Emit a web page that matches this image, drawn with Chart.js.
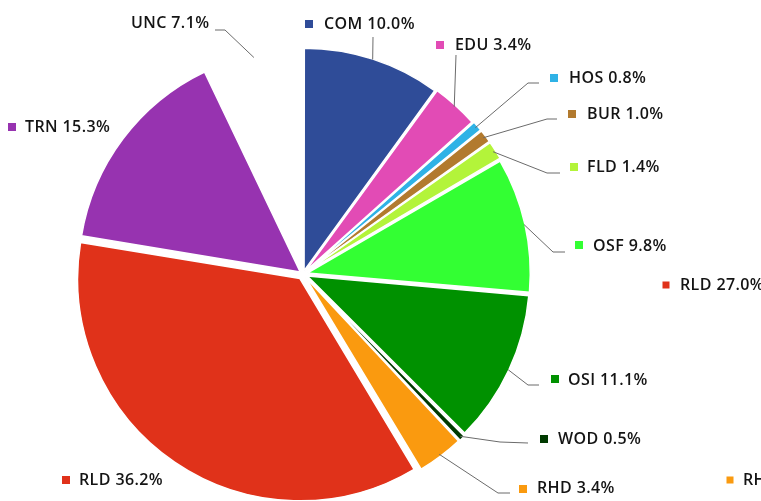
<!DOCTYPE html>
<html>
<head>
<meta charset="utf-8">
<script src="https://cdn.jsdelivr.net/npm/chart.js@4"></script>
<style>
  html, body { margin: 0; padding: 0; background: #fff; overflow: hidden; }
  #wrap { position: relative; width: 761px; height: 501px; }
</style>
</head>
<body>
<div id="wrap"><canvas id="c" width="761" height="501"></canvas></div>
<script>
// ---- data ----
const categories = ['COM', 'EDU', 'HOS', 'BUR', 'FLD', 'OSF', 'OSI', 'WOD', 'RHD', 'RLD', 'TRN', 'UNC'];
const shares = [10.0, 3.4, 0.8, 1.0, 1.4, 9.8, 11.1, 0.5, 3.4, 36.2, 15.3, 7.1];
// labels of the neighbouring (cropped) chart
const sideCategories = ['RLD', 'RHD'];
const sideShares = [27.0, 3.4];

// ---- styles ----
const colors = ['#2F4C98', '#E24BB5', '#2FB2E6', '#B27A2E', '#B3F43A', '#33FF33',
                '#009100', '#003A00', '#FA9A0F', '#E0321A', '#9733B0', '#FFFFFF'];
const sideColors = ['#E0321A', '#FA9A0F'];
const explode = [14, 14, 16, 16, 16, 18, 18, 16, 16, 22, 14, 0];

// label layout: square centre, text start/centre, leader elbow & end (null = no leader)
const labelLayout = [
  { sq: [309, 24], tx: 324, ty: 24, elbow: [373, 37], end: [373, 37] },
  { sq: [440, 45], tx: 455, ty: 45, elbow: [456, 55], end: [456, 55] },
  { sq: [554, 78], tx: 569, ty: 78, elbow: [528, 83], end: [539, 83] },
  { sq: [572, 114], tx: 587, ty: 114, elbow: [547, 119], end: [557, 119] },
  { sq: [574, 167], tx: 587, ty: 167, elbow: [547, 173], end: [560, 173] },
  { sq: [579, 245], tx: 593, ty: 246, elbow: [553, 252], end: [565, 252] },
  { sq: [555, 379], tx: 568, ty: 380, elbow: [528, 385], end: [539, 385] },
  { sq: [544, 439], tx: 558, ty: 439, elbow: [500, 442], end: [528, 443] },
  { sq: [523, 489], tx: 537, ty: 488, elbow: [498, 493], end: [510, 493] },
  { sq: [66, 480], tx: 79, ty: 480, elbow: null, end: null },
  { sq: [12, 127], tx: 25, ty: 127, elbow: null, end: null },
  { sq: [118, 23], tx: 131, ty: 23, elbow: [225, 30], end: [215, 30] }
];
const sideLayout = [
  { sq: [666, 285], tx: 680, ty: 285 },
  { sq: [730, 480], tx: 743, ty: 480 }
];
const FONT = '600 16px "Open Sans"';

const labelPlugin = {
  id: 'outLabels',
  afterDatasetsDraw(chart) {
    const ctx = chart.ctx;
    const meta = chart.getDatasetMeta(0);
    ctx.save();
    ctx.font = FONT;
    if ('letterSpacing' in ctx) ctx.letterSpacing = '0.4px';
    ctx.textBaseline = 'middle';
    ctx.textAlign = 'left';
    meta.data.forEach((arc, i) => {
      const p = arc.getProps(['x', 'y', 'startAngle', 'endAngle', 'outerRadius']);
      const mid = (p.startAngle + p.endAngle) / 2;
      const disp = explode[i] / 4;
      const L = labelLayout[i];
      if (L.elbow) {
        const r = p.outerRadius + disp + 1;
        const sx = p.x + Math.cos(mid) * r;
        const sy = p.y + Math.sin(mid) * r;
        ctx.strokeStyle = '#6b6b6b';
        ctx.lineWidth = 1;
        ctx.beginPath();
        ctx.moveTo(sx, sy);
        ctx.lineTo(L.elbow[0], L.elbow[1]);
        ctx.lineTo(L.end[0], L.end[1]);
        ctx.stroke();
      }
      ctx.fillStyle = colors[i];
      ctx.fillRect(L.sq[0] - 4, L.sq[1] - 4, 8, 8);
      ctx.fillStyle = '#141414';
      ctx.fillText(categories[i] + ' ' + shares[i].toFixed(1) + '%', L.tx, L.ty);
    });
    sideCategories.forEach((c, i) => {
      const L = sideLayout[i];
      ctx.fillStyle = sideColors[i];
      ctx.fillRect(L.sq[0] - 3.5, L.sq[1] - 3.5, 7, 7);
      ctx.fillStyle = '#141414';
      ctx.fillText(c + ' ' + sideShares[i].toFixed(1) + '%', L.tx, L.ty);
    });
    ctx.restore();
  }
};

new Chart(document.getElementById('c'), {
  type: 'pie',
  data: {
    labels: categories,
    datasets: [{
      data: shares,
      backgroundColor: colors,
      borderColor: '#FFFFFF',
      borderWidth: categories.map((c, i) => colors[i] === '#FFFFFF' ? 0 : 1.5),
      offset: explode,
      radius: 221
    }]
  },
  options: {
    responsive: false,
    animation: false,
    layout: { padding: { left: 0, right: 155, top: 47, bottom: 0 } },
    plugins: { legend: { display: false }, tooltip: { enabled: false } }
  },
  plugins: [labelPlugin]
});
</script>
</body>
</html>
